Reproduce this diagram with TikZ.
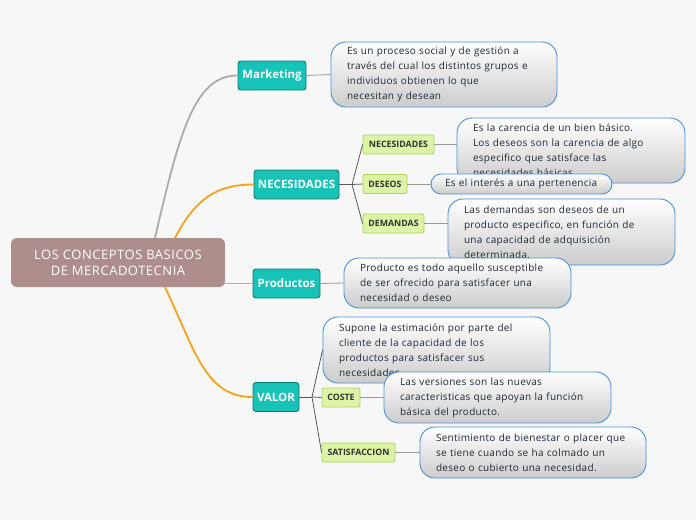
\documentclass[tikz,border=0pt]{standalone}
\usepackage{fontspec}
\setmainfont{Open Sans}
\newfontfamily\bubblefont[LetterSpace=3]{Open Sans}
\newfontfamily\rootfont[LetterSpace=4]{Open Sans}
\usepackage{tikz}
\usetikzlibrary{positioning,calc}
\definecolor{rootfill}{HTML}{AE8D8D}
\definecolor{tealfill}{HTML}{17C3B7}
\definecolor{tealline}{HTML}{0E7C74}
\definecolor{limefill}{HTML}{DDF3A6}
\definecolor{limeline}{HTML}{A9D45C}
\definecolor{bubbleline}{HTML}{4A90D6}
\definecolor{bubbletext}{HTML}{1F2A36}
\definecolor{branchorange}{HTML}{F7A21B}
\definecolor{branchgray}{HTML}{ABABAB}
\definecolor{bgcolor}{HTML}{F7F7F7}
\tikzset{
  rootbox/.style={fill=rootfill, rounded corners=6pt, minimum width=214pt, minimum height=49pt, align=center, text=white, font=\rootfont\fontsize{13}{16}\selectfont},
  topic/.style={draw=tealline, fill=tealfill, line width=0.9pt, rounded corners=3pt, minimum height=29pt, inner xsep=3pt, text=white, font=\fontsize{11.5}{13}\selectfont\bfseries},
  subtopic/.style={draw=limeline, fill=limefill, line width=0.8pt, rounded corners=2pt, minimum height=19pt, inner xsep=3pt, text=black!80, font=\fontsize{8.8}{10}\selectfont\bfseries},
  bubble/.style={draw=bubbleline, line width=0.9pt, top color=white, bottom color=black!20, rounded corners=15pt, align=left, inner xsep=16pt, inner ysep=2pt, text=bubbletext, font=\bubblefont\fontsize{10}{15}\selectfont},
  mainline/.style={line width=1.8pt, line cap=round},
  subline/.style={draw=black!65, line width=0.8pt},
  noteline/.style={draw=black!40, line width=0.8pt}
}

\begin{document}
\begin{tikzpicture}[x=1pt,y=-1pt]
\fill[bgcolor] (0,0) rectangle (696,520);
\useasboundingbox (0,0) rectangle (696,520);

\node[rootbox] (root) at (118,262.5) {LOS CONCEPTOS BASICOS\\DE MERCADOTECNIA};

\node[topic, minimum width=68pt] (mk) at (272,75.5) {Marketing};
\node[topic, minimum width=85pt] (nec) at (296.5,184.5) {NECESIDADES};
\node[topic, minimum width=67pt] (pro) at (286.5,283.5) {Productos};
\node[topic, minimum width=46pt] (val) at (276,397) {VALOR};

\node[subtopic, minimum width=71pt] (necsub) at (398.5,144.5) {NECESIDADES};
\node[subtopic, minimum width=44pt] (dessub) at (385,184) {DESEOS};
\node[subtopic, minimum width=61pt] (demsub) at (393.5,223.5) {DEMANDAS};
\node[subtopic, minimum width=38pt] (cossub) at (341,397.5) {COSTE};
\node[subtopic, minimum width=73pt] (satsub) at (358.5,452.5) {SATISFACCION};

\draw[mainline, branchgray] ([xshift=37pt]root.north) .. controls (180,130) and (195,75.5) .. (mk.west);
\draw[mainline, branchorange] ([xshift=57pt]root.north) .. controls (195,200) and (215,184.5) .. (nec.west);
\draw[mainline, branchorange] (pro.west -| root.east) -- (pro.west);
\draw[mainline, branchorange] ([xshift=47pt]root.south) .. controls (195,350) and (205,397) .. (val.west);

\coordinate (necfork) at (352,184.5);
\coordinate (valfork) at (312,397);

\node[bubble, text width=194pt, minimum height=65pt] (mkdesc) at (444,74.5) {Es un proceso social y de gestión a\\través del cual los distintos grupos e\\individuos obtienen lo que\\necesitan y desean};
\node[bubble, text width=196pt, minimum height=65pt] (necdesc) at (571,150.5) {Es la carencia de un bien básico.\\Los deseos son la carencia de algo\\especifico que satisface las\\necesidades básicas};
\node[bubble, text width=153pt, minimum height=20pt, inner xsep=14pt, rounded corners=10pt] (desdesc) at (521.5,184) {Es el interés a una pertenencia};
\node[bubble, text width=195pt, minimum height=66pt] (demdesc) at (561.5,232) {Las demandas son deseos de un\\producto especifico, en función de\\una capacidad de adquisición\\determinada.};
\node[bubble, text width=195pt, minimum height=50pt] (prodesc) at (457.5,283) {Producto es todo aquello susceptible\\de ser ofrecido para satisfacer una\\necesidad o deseo};
\node[bubble, text width=195pt, minimum height=66pt] (valdesc) at (436.5,350) {Supone la estimación por parte del\\cliente de la capacidad de los\\productos para satisfacer sus\\necesidades};
\node[bubble, text width=195pt, minimum height=51pt] (cosdesc) at (497.5,397.5) {Las versiones son las nuevas\\caracteristicas que apoyan la función\\básica del producto.};
\node[bubble, text width=194pt, minimum height=51pt] (satdesc) at (533,452.5) {Sentimiento de bienestar o placer que\\se tiene cuando se ha colmado un\\deseo o cubierto una necesidad.};

\draw[subline] (nec.east) -- (necfork);
\draw[subline] (necfork) -- (necsub.west);
\draw[subline] (necfork) -- (dessub.west);
\draw[subline] (necfork) -- (demsub.west);
\draw[subline] (val.east) -- (valfork);
\draw[subline] (valfork) -- (valdesc.west);
\draw[subline] (valfork) -- (cossub.west);
\draw[subline] (valfork) -- (satsub.west);

\draw[noteline] (mk.east) -- (mkdesc.west);
\draw[noteline] (necsub.east) -- (necsub.east -| necdesc.west);
\draw[noteline] (dessub.east) -- (desdesc.west);
\draw[noteline] (demsub.east) -- (demsub.east -| demdesc.west);
\draw[noteline] (pro.east) -- (prodesc.west);
\draw[noteline] (cossub.east) -- (cosdesc.west);
\draw[noteline] (satsub.east) -- (satdesc.west);
\end{tikzpicture}
\end{document}
